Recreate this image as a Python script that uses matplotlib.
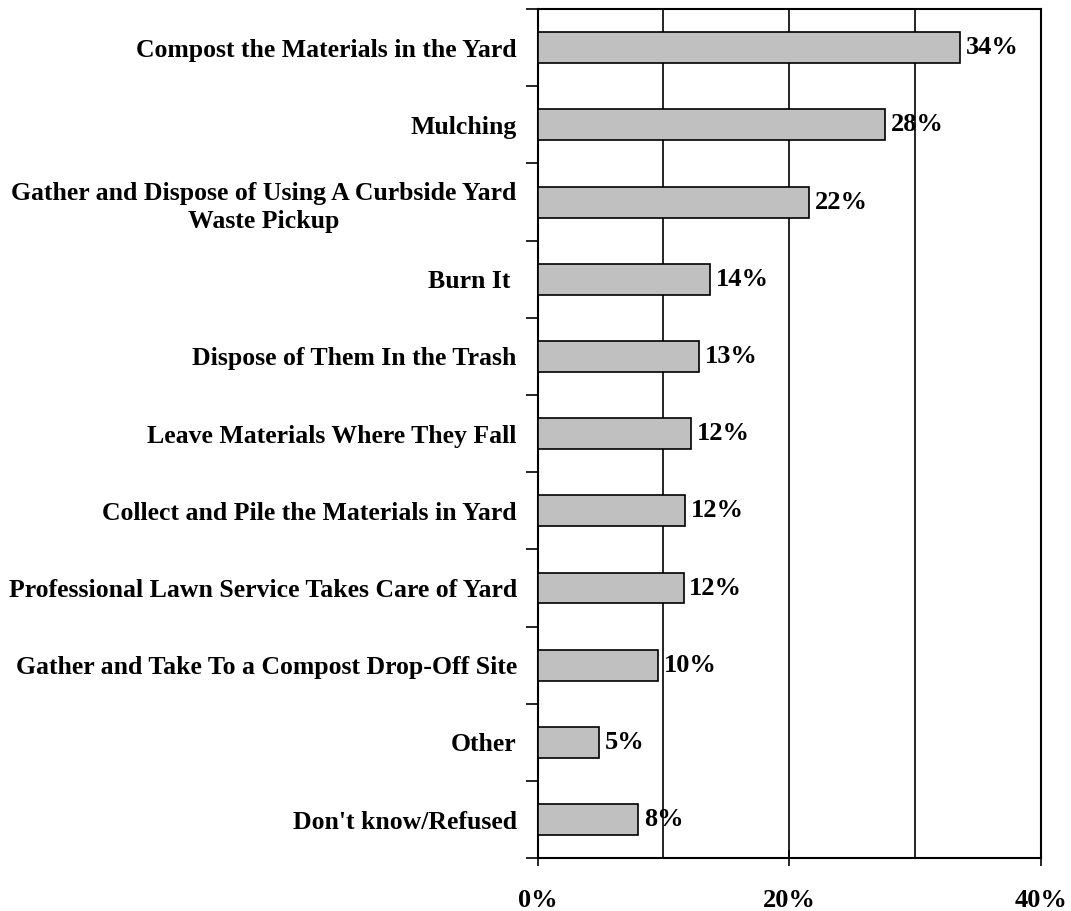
import matplotlib.pyplot as plt
import numpy as np

# Survey categories and share of respondents (%)
categories = [
    "Compost the Materials in the Yard",
    "Mulching",
    "Gather and Dispose of Using A Curbside Yard\nWaste Pickup",
    "Burn It ",
    "Dispose of Them In the Trash",
    "Leave Materials Where They Fall",
    "Collect and Pile the Materials in Yard",
    "Professional Lawn Service Takes Care of Yard",
    "Gather and Take To a Compost Drop-Off Site",
    "Other",
    "Don't know/Refused",
]
values = [33.6, 27.6, 21.6, 13.7, 12.8, 12.2, 11.7, 11.6, 9.6, 4.9, 8.0]
value_labels = ["34%", "28%", "22%", "14%", "13%", "12%", "12%", "12%", "10%", "5%", "8%"]
x_ticks = [0, 20, 40]
x_tick_labels = ["0%", "20%", "40%"]

plt.rcParams['font.family'] = ['Liberation Serif', 'DejaVu Serif']
plt.rcParams['font.weight'] = 'bold'

fig = plt.figure(figsize=(10.71, 9.11), dpi=100)
ax = fig.add_axes([0.502, 0.058, 0.470, 0.932])

y = np.arange(len(categories))
ax.barh(y, values, height=0.4, color='#C0C0C0', edgecolor='black', linewidth=1.2, zorder=3)

for yi, v, lab in zip(y, values, value_labels):
    ax.text(v + 0.45, yi, lab, va='center', ha='left', fontsize=19, fontweight='bold', zorder=4)

ax.set_xlim(0, 40)
ax.set_ylim(len(categories) - 0.5, -0.5)

# vertical gridlines at every 10%
for gx in [10, 20, 30]:
    ax.axvline(gx, color='black', linewidth=1.2, zorder=1)

ax.set_xticks(x_ticks)
ax.set_xticklabels(x_tick_labels, fontsize=19, fontweight='bold')
ax.tick_params(axis='x', direction='inout', length=12, width=1.2, pad=16)

ax.set_yticks(y)
ax.set_yticklabels(categories, fontsize=18.5, fontweight='bold', ha='right',
                   multialignment='center', linespacing=1.3)
ax.tick_params(axis='y', which='major', length=0, pad=15)
ax.set_yticks(np.arange(len(categories) + 1) - 0.5, minor=True)
ax.tick_params(axis='y', which='minor', direction='out', length=9, width=1.2)

for s in ax.spines.values():
    s.set_linewidth(1.5)

fig.savefig('out.png', dpi=100)
